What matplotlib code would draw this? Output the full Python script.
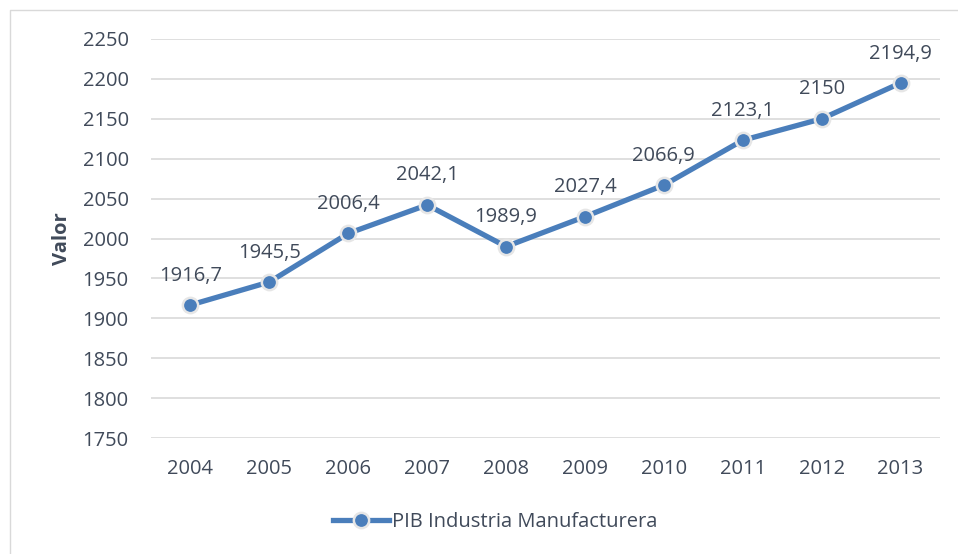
import matplotlib.pyplot as plt
from matplotlib.lines import Line2D

years = ["2004", "2005", "2006", "2007", "2008", "2009", "2010", "2011", "2012", "2013"]
valores = [1916.7, 1945.5, 2006.4, 2042.1, 1989.9, 2027.4, 2066.9, 2123.1, 2150, 2194.9]
etiquetas = ["1916,7", "1945,5", "2006,4", "2042,1", "1989,9", "2027,4", "2066,9", "2123,1", "2150", "2194,9"]
y_ticks = [1750, 1800, 1850, 1900, 1950, 2000, 2050, 2100, 2150, 2200, 2250]

plt.rcParams['font.family'] = ['Open Sans', 'DejaVu Sans']
TEXT = '#404a5a'
BLUE = '#4a7ebb'
FS = 14.5

fig = plt.figure(figsize=(9.58, 5.54), dpi=100)
ax = fig.add_axes([151/958, 1 - 438/554, 789/958, 399/554])

# chart border (only left and top show in the crop)
fig.add_artist(Line2D([10/958, 10/958, 1], [0, 1 - 10/554, 1 - 10/554], transform=fig.transFigure,
                      color='#d9d9d9', linewidth=1))

x = list(range(len(years)))
ax.plot(x, valores, color=BLUE, linewidth=3.8, marker='o', markersize=11,
        markerfacecolor=BLUE, markeredgecolor='#e6e6e6', markeredgewidth=1.8,
        solid_capstyle='round', zorder=3)

for xi, v, lab in zip(x, valores, etiquetas):
    ax.annotate(lab, (xi, v), xytext=(0, 14), textcoords='offset points',
                ha='center', va='bottom', fontsize=FS, color=TEXT)

ax.set_xlim(-0.5, len(years) - 0.5)
ax.set_ylim(1750, 2250)
ax.set_yticks(y_ticks)
ax.set_xticks(x)
ax.set_xticklabels(years)
ax.grid(axis='y', color='#d9d9d9', linewidth=1.2)
ax.set_axisbelow(True)
for s in ax.spines.values():
    s.set_visible(False)
ax.tick_params(axis='both', length=0, labelsize=FS, labelcolor=TEXT)
ax.tick_params(axis='y', pad=16)
ax.tick_params(axis='x', pad=15)
ax.set_ylabel('Valor', fontsize=FS, fontweight='bold', color=TEXT, labelpad=8)

handle = Line2D([], [], color=BLUE, linewidth=3.8, marker='o', markersize=11,
                markerfacecolor=BLUE, markeredgecolor='#e6e6e6', markeredgewidth=1.8)
fig.legend([handle], ['PIB Industria Manufacturera'], loc='center', bbox_to_anchor=(495/958, 1 - 522/554),
           frameon=False, fontsize=FS, labelcolor=TEXT, handlelength=2.8, handletextpad=0.1)

fig.savefig('out.png', dpi=100)
